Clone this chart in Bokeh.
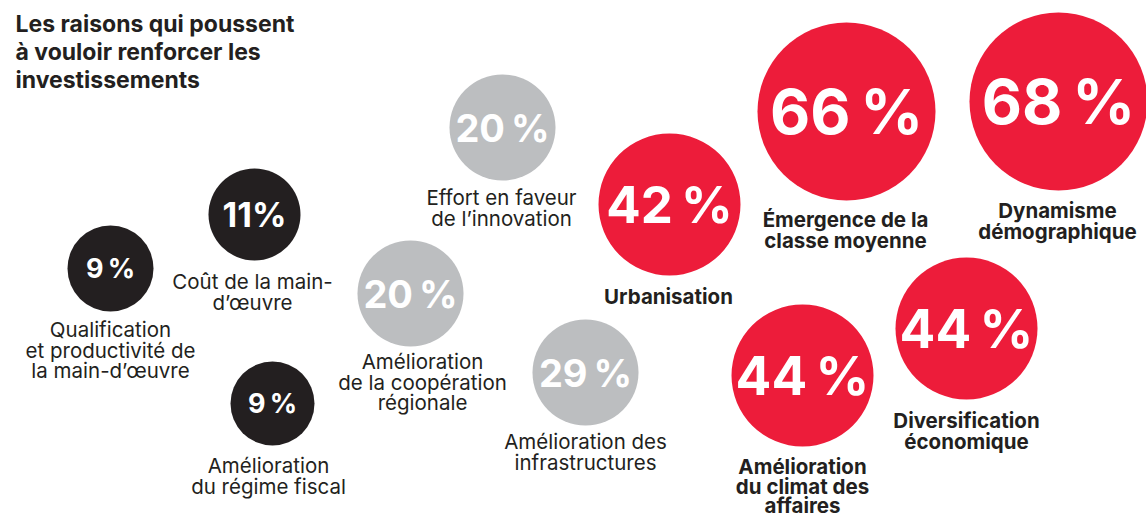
from bokeh.plotting import figure
from bokeh.models import Range1d, ColumnDataSource
from bokeh.embed import file_html
from bokeh.resources import INLINE
from bokeh.core.properties import value

# ---------------- data ----------------
title_lines = ["Les raisons qui poussent", "à vouloir renforcer les", "investissements"]

reasons = [
    "Qualification\net productivité de\nla main-d’œuvre",
    "Coût de la main-\nd’œuvre",
    "Amélioration\ndu régime fiscal",
    "Effort en faveur\nde l’innovation",
    "Amélioration\nde la coopération\nrégionale",
    "Amélioration des\ninfrastructures",
    "Urbanisation",
    "Émergence de la\nclasse moyenne",
    "Dynamisme\ndémographique",
    "Amélioration\ndu climat des\naffaires",
    "Diversification\néconomique",
]
percent = [9, 11, 9, 20, 20, 29, 42, 66, 68, 44, 44]
tier = ["low", "low", "low", "mid", "mid", "mid", "high", "high", "high", "high", "high"]

# ---------------- layout (reference pixel coordinates) ----------------
cx = [110, 254, 272, 502, 410, 585, 669, 846, 1058, 802, 966]
cy = [268, 214, 403, 127, 293, 372, 204, 111, 101, 375, 328]
radius = [43, 46, 42, 53, 53, 53, 71, 89, 89, 71, 71]
num_size = [27, 34, 27, 38, 38, 38, 51, 62, 62, 53, 53]
label_x = [110, 252, 268, 501, 422, 585, 668, 845, 1057, 802, 966]
label_y = [329, 281, 465, 197, 361, 441, 296, 219, 210, 466, 420]
line_h = [20.5, 20.5, 20.5, 20.5, 20.5, 20.5, 20.5, 21, 21, 19.5, 20.5]

colors = {"low": "#231F20", "mid": "#BCBEC0", "high": "#ED1C3A"}
TEXT = "#231F20"
FONT = "Inter"
W, H = 1146, 520

p = figure(width=W, height=H, x_range=Range1d(0, W), y_range=Range1d(H, 0),
           output_backend="svg", toolbar_location=None, min_border=0)
p.axis.visible = False
p.grid.visible = False
p.outline_line_color = None
p.background_fill_color = "white"
p.border_fill_color = "white"

# bubbles
src = ColumnDataSource(dict(
    x=cx, y=cy, r=radius,
    c=[colors[t] for t in tier],
    txt=[f"{v}%" if v == 11 else f"{v}\u2009%" for v in percent],
    fs=[f"{s}px" for s in num_size],
))
p.circle("x", "y", radius="r", fill_color="c", line_color=None, source=src)
p.text("x", "y", text="txt", text_font_size="fs", text_color="white",
       text_font=value(FONT), text_font_style="bold",
       text_align="center", text_baseline="middle", source=src)

# category labels
reg = dict(x=[], y=[], t=[])
bld = dict(x=[], y=[], t=[])
for i, lab in enumerate(reasons):
    d = bld if tier[i] == "high" else reg
    for j, line in enumerate(lab.split("\n")):
        d["x"].append(label_x[i])
        d["y"].append(label_y[i] + j * line_h[i])
        d["t"].append(line)
p.text("x", "y", text="t", source=ColumnDataSource(reg), text_font=value(FONT),
       text_font_size="20.5px", text_color=TEXT, text_align="center", text_baseline="middle")
p.text("x", "y", text="t", source=ColumnDataSource(bld), text_font=value(FONT),
       text_font_size="20.5px", text_font_style="bold", text_color=TEXT,
       text_align="center", text_baseline="middle")

# title
p.text(x=[15] * 3, y=[23 + 28 * i for i in range(3)], text=title_lines,
       text_font=value(FONT), text_font_size="23px", text_font_style="bold",
       text_color=TEXT, text_align="left", text_baseline="middle")

open("out.html", "w").write(file_html(p, INLINE))
